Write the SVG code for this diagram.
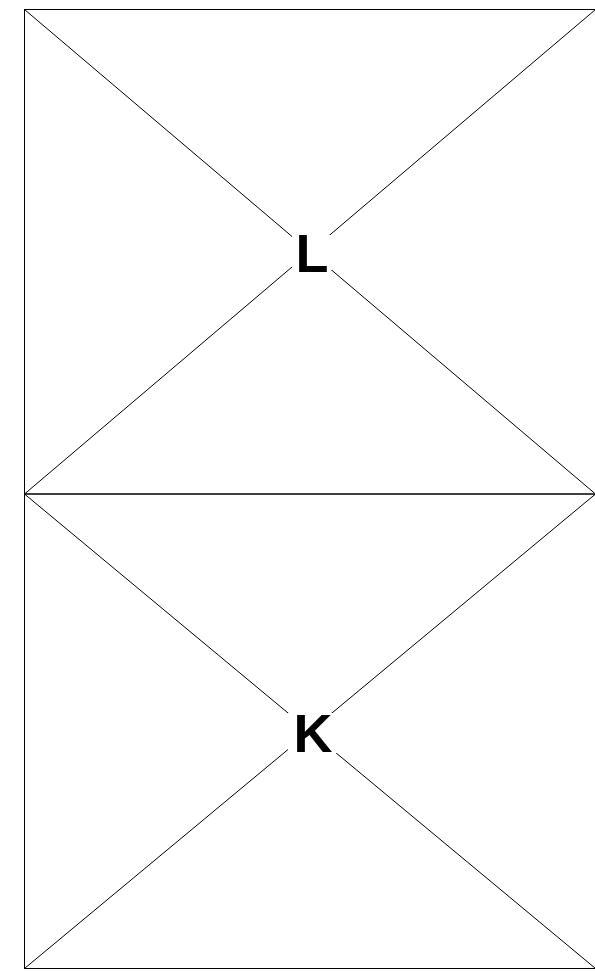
<svg xmlns="http://www.w3.org/2000/svg" width="595" height="973" viewBox="0 0 595 973">
<style>
.edge{fill:none;stroke:#000;stroke-width:1}
.mask{fill:#fff;stroke:none}
.lbl{font-family:"Liberation Sans",Arial,sans-serif;font-weight:bold;font-size:54px;fill:#000;text-anchor:middle}
</style>
<rect width="595" height="973" fill="#fff"/>
<g id="connectors">
<line class="edge" x1="24.5" y1="9.5" x2="595.5" y2="494"/>
<line class="edge" x1="595.5" y1="9.5" x2="24.5" y2="494"/>
<line class="edge" x1="24.5" y1="494" x2="595.5" y2="968.5"/>
<line class="edge" x1="595.5" y1="494" x2="24.5" y2="968.5"/>
</g>
<g id="L">
<rect class="edge" x="24.5" y="9.5" width="571" height="484.5"/>
<rect class="mask" x="292" y="235" width="44" height="35"/>
<text class="lbl" x="312" y="272">L</text>
</g>
<g id="K">
<rect class="edge" x="24.5" y="494" width="571" height="474.5"/>
<rect class="mask" x="288" y="713" width="51" height="40"/>
<text class="lbl" x="313" y="752">K</text>
</g>
</svg>
